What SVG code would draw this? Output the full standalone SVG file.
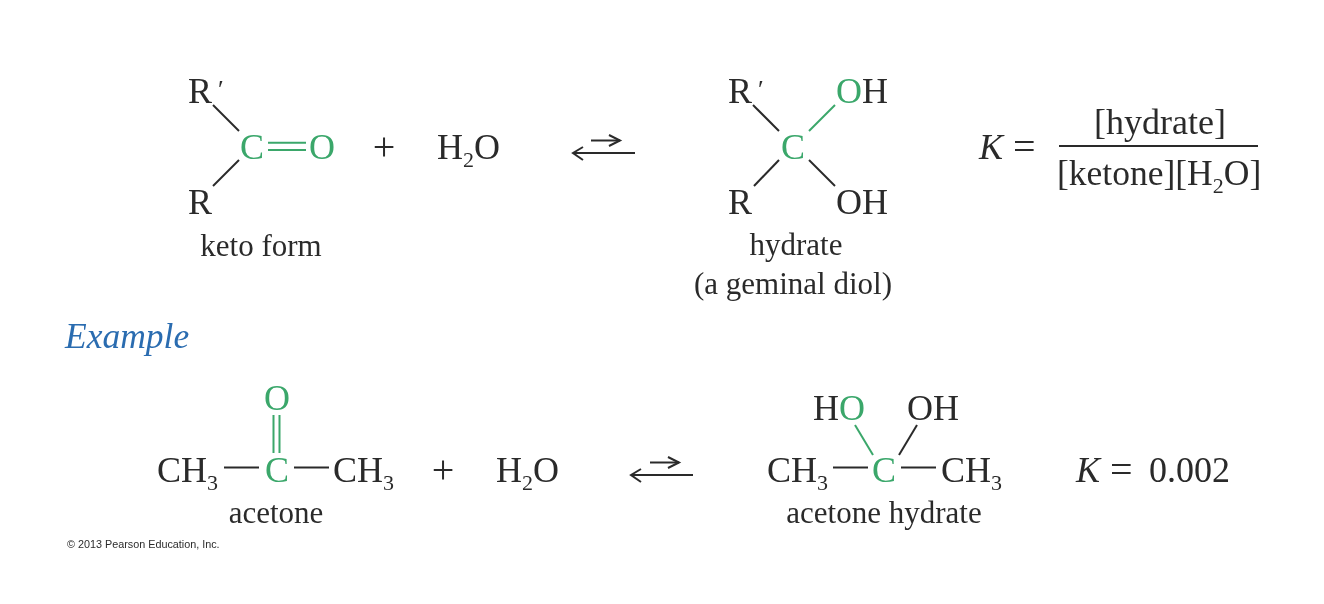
<svg xmlns="http://www.w3.org/2000/svg" width="1324" height="604" viewBox="0 0 1324 604">
<style>
text{font-family:"Liberation Serif","Times New Roman",serif;fill:#2b2b2b;font-size:36px}
.g{fill:#3aa76b}
.l{font-size:31px}
.m{text-anchor:middle}
.s{font-size:22px}
.p{font-size:26px}
.b{font-size:40px}
.i{font-style:italic}
line,polyline{stroke:#2b2b2b;stroke-width:2;fill:none}
.gb{stroke:#3aa76b}
.f{font-size:35.5px}
.c{font-family:"Liberation Sans",Arial,sans-serif;font-size:10.8px}
.e{fill:#2a6cb0;font-size:35.5px}
</style>
<defs><filter id="soft" x="0" y="0" width="100%" height="100%"><feGaussianBlur stdDeviation="0.3"/></filter></defs>
<rect width="1324" height="604" fill="#fff"/>
<g filter="url(#soft)">
<g id="connectors">
<line x1="213" y1="105" x2="239" y2="131"/>
<line x1="239" y1="160" x2="213" y2="186"/>
<line class="gb" x1="268" y1="142.700" x2="306" y2="142.700"/>
<line class="gb" x1="268" y1="150" x2="306" y2="150"/>
<line x1="753" y1="105" x2="779" y2="131"/>
<line class="gb" x1="809" y1="131" x2="835" y2="105"/>
<line x1="779" y1="160" x2="754" y2="186"/>
<line x1="809" y1="160" x2="835" y2="186"/>
<line class="gb" x1="273.500" y1="415" x2="273.500" y2="453"/>
<line class="gb" x1="279.500" y1="415" x2="279.500" y2="453"/>
<line x1="224" y1="467.500" x2="259" y2="467.500"/>
<line x1="294" y1="467.500" x2="329" y2="467.500"/>
<line x1="833" y1="467.500" x2="868" y2="467.500"/>
<line x1="901" y1="467.500" x2="936" y2="467.500"/>
<line class="gb" x1="855" y1="425" x2="873" y2="455"/>
<line x1="917" y1="425" x2="899" y2="455"/>
<g id="arrow-top">
<line x1="573" y1="153" x2="635" y2="153"/><polyline points="583,147 573,153 583,160"/>
<line x1="591" y1="140.500" x2="620" y2="140.500"/><polyline points="609,135 620,140.500 609,146"/>
</g>
<g id="arrow-bottom">
<line x1="631" y1="475" x2="693" y2="475"/><polyline points="641,469 631,475 641,482"/>
<line x1="650" y1="462.500" x2="679" y2="462.500"/><polyline points="668,457 679,462.500 668,468"/>
</g>
<line x1="1059" y1="146" x2="1258" y2="146"/>
</g>
<g id="keto">
<text x="188" y="103">R</text><text x="218" y="98" class="p">′</text>
<text x="188" y="214">R</text>
<text x="240" y="159" class="g">C</text><text x="309" y="159" class="g">O</text>
<text x="261" y="256" class="l m">keto form</text>
</g>
<g id="water-top">
<text x="384" y="160" class="m b">+</text>
<text x="437" y="159">H<tspan class="s" dy="8">2</tspan><tspan dy="-8">O</tspan></text>
</g>
<g id="hydrate">
<text x="728" y="103">R</text><text x="758" y="98" class="p">′</text>
<text x="836" y="103"><tspan class="g">O</tspan>H</text>
<text x="781" y="159" class="g">C</text>
<text x="728" y="214">R</text><text x="836" y="214">OH</text>
<text x="796" y="255" class="l m">hydrate</text>
<text x="793" y="294" class="l m">(a geminal diol)</text>
</g>
<g id="equilibrium-top">
<text x="979" y="159" class="i">K</text><text x="1013" y="160" class="b">=</text>
<text x="1160" y="134" class="m">[hydrate]</text>
<text x="1057" y="185" class="f">[ketone][H<tspan class="s" dy="8">2</tspan><tspan dy="-8">O</tspan>]</text>
</g>
<g id="example"><text x="65" y="348" class="i e">Example</text></g>
<g id="acetone">
<text x="264" y="409.500" class="g">O</text>
<text x="157" y="482">CH<tspan class="s" dy="8">3</tspan></text>
<text x="265" y="482" class="g">C</text>
<text x="333" y="482">CH<tspan class="s" dy="8">3</tspan></text>
<text x="276" y="523" class="l m">acetone</text>
</g>
<g id="water-bottom">
<text x="443" y="483" class="m b">+</text>
<text x="496" y="482">H<tspan class="s" dy="8">2</tspan><tspan dy="-8">O</tspan></text>
</g>
<g id="acetone-hydrate">
<text x="813" y="420">H<tspan class="g">O</tspan></text>
<text x="907" y="420">OH</text>
<text x="767" y="482">CH<tspan class="s" dy="8">3</tspan></text>
<text x="872" y="482" class="g">C</text>
<text x="941" y="482">CH<tspan class="s" dy="8">3</tspan></text>
<text x="884" y="523" class="l m">acetone hydrate</text>
</g>
<g id="equilibrium-bottom"><text x="1076" y="482" class="i">K</text><text x="1110" y="483" class="b">=</text><text x="1149" y="482">0.002</text></g>
<text x="67" y="548" class="c">© 2013 Pearson Education, Inc.</text>
</g>
</svg>
